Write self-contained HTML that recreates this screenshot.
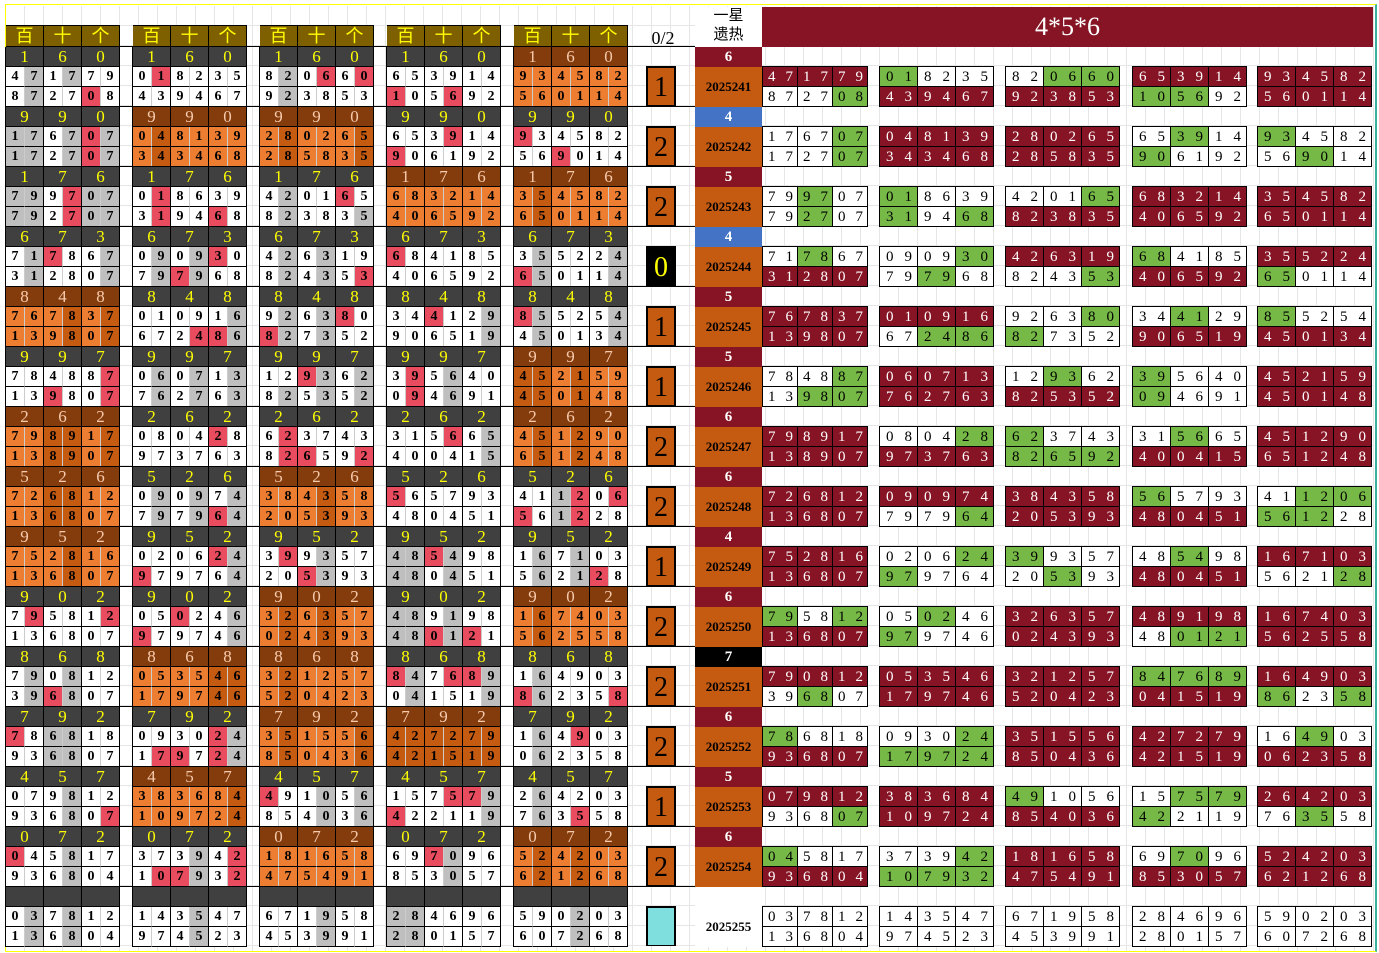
<!DOCTYPE html>
<html><head><meta charset="utf-8"><style>
body{margin:0;width:1379px;height:953px;position:relative;overflow:hidden;background:#fff;font-family:"Liberation Serif",serif}
.grid{position:absolute;left:6px;top:6px;width:1368px;height:945px;background:repeating-linear-gradient(to right,transparent 0 18px,#e6e6e6 18px 19px),repeating-linear-gradient(to bottom,transparent 0 19px,#e6e6e6 19px 20px)}
.frame{position:absolute;left:5px;top:4px;width:1369px;height:946px;border:1px solid #ff0;border-right:2px solid #3cb0a0}
.gr{position:absolute;left:0;width:1379px;height:60px}
.gr:before{content:"";position:absolute;left:6px;width:689px;top:-1px;height:1px;background:#000}
p{margin:0;display:flex;height:20px}
.L{position:absolute;top:0;width:114px;border-left:1px solid #000;margin-left:-1px}
.L i{width:19px;height:20px;box-sizing:border-box;border-bottom:1px solid #000;border-right:1px solid #ccc;font:bold 14px/20px "Liberation Serif",serif;text-align:center;font-style:normal;background:#fff;color:#000}
.L i:nth-child(2n){border-right-color:#000}
.L i.g{background:#bfbfbf}.L i.r{background:#e84c5e}.L i.o{background:#ed7d31}.L i.d{background:#c55a11}
.h s{width:38px;height:20px;box-sizing:border-box;text-decoration:none;font:17px/20px "Liberation Serif",serif;text-align:center;border-right:1px solid #000;border-bottom:1px solid #000}
.k s{background:#404040;color:#ff0}.b s{background:#843c0c;color:#f8cbad}
.c1{left:6px}.c2{left:133px}.c3{left:260px}.c4{left:387px}.c5{left:514px}
.Q{position:absolute;top:20px;border-left:1px solid #000;border-top:1px solid #000;margin-top:-1px;margin-left:-1px}
.Q b{display:block;width:38px;height:20px;box-sizing:border-box;border-right:1px solid #000;border-bottom:1px solid #000;font:normal 15px/20px "Liberation Serif",serif;letter-spacing:11px;padding-left:6px;text-align:left;white-space:nowrap;overflow:hidden;background:#fff;color:#000}
.Q b.R{background:#861424;color:#fff}.Q b.G{background:#76b947}
.d1{left:763px}.d1 b{width:35px;letter-spacing:10px;padding-left:5px}.d2{left:880px}.d3{left:1006px}.d4{left:1133px}.d5{left:1258px}
.n{position:absolute;left:695px;width:67px;top:0;height:20px;color:#fff;font:bold 15px/20px "Liberation Serif",serif;text-align:center;background:#861424}
.n.u{background:#4472c4}.n.z{background:#000}.n.e{background:#fff}
.p{position:absolute;left:695px;width:67px;top:20px;height:40px;background:#c55a11;font:bold 13px/40px "Liberation Serif",serif;text-align:center;color:#000}
.p.e{background:#fff}
.x{position:absolute;left:646px;top:19px;width:26px;height:37px;border:2px solid #000;border-bottom-width:1px;background:#c55a11;font:28px/40px "Liberation Serif",serif;text-align:center;color:#000}
.x.z{background:#000;color:#ff0}.x.c{background:#7fdfdf}
.hd{position:absolute;top:26px;width:114px;height:20px;display:flex;border-top:1px solid #000;margin-top:-1px}
.hd s{width:38px;height:20px;text-decoration:none;background:#7f6000;color:#ff0;font:18px/20px "Liberation Serif","Noto Sans CJK SC",sans-serif;text-align:center;border-right:1px solid #000;box-sizing:border-box}
</style></head><body>
<div class="grid"></div>
<div class="frame"></div>
<div class="hd c1"><s>百</s><s>十</s><s>个</s></div>
<div class="hd c2"><s>百</s><s>十</s><s>个</s></div>
<div class="hd c3"><s>百</s><s>十</s><s>个</s></div>
<div class="hd c4"><s>百</s><s>十</s><s>个</s></div>
<div class="hd c5"><s>百</s><s>十</s><s>个</s></div>
<div style="position:absolute;left:640px;top:28px;width:46px;text-align:center;font:18px/20px 'Liberation Serif',serif">0/2</div>
<div style="position:absolute;left:695px;top:7px;width:67px;height:40px;background:#fff;text-align:center;font:15px/19px 'Liberation Serif','Noto Sans CJK SC',sans-serif">一星<br>遗热</div>
<div style="position:absolute;left:762px;top:7px;width:611px;height:40px;background:#861424;color:#fff;text-align:center;font:26px/40px 'Liberation Serif',serif">4*5*6</div>

<!-- G1 -->
<div class="gr" style="top:47px">
<div class="n">6</div><div class="p">2025241</div><div class="x">1</div>
<div class="L c1"><p class="h k"><s>1</s><s>6</s><s>0</s></p><p><i>4</i><i class=g>7</i><i>1</i><i class=g>7</i><i>7</i><i>9</i></p><p><i>8</i><i class=g>7</i><i>2</i><i>7</i><i class=r>0</i><i>8</i></p></div>
<div class="L c2"><p class="h k"><s>1</s><s>6</s><s>0</s></p><p><i>0</i><i class=r>1</i><i>8</i><i>2</i><i>3</i><i>5</i></p><p><i>4</i><i>3</i><i>9</i><i>4</i><i>6</i><i>7</i></p></div>
<div class="L c3"><p class="h k"><s>1</s><s>6</s><s>0</s></p><p><i>8</i><i class=g>2</i><i>0</i><i class=r>6</i><i>6</i><i class=r>0</i></p><p><i>9</i><i class=g>2</i><i>3</i><i>8</i><i>5</i><i>3</i></p></div>
<div class="L c4"><p class="h k"><s>1</s><s>6</s><s>0</s></p><p><i>6</i><i>5</i><i>3</i><i>9</i><i>1</i><i>4</i></p><p><i class=r>1</i><i>0</i><i>5</i><i class=r>6</i><i>9</i><i>2</i></p></div>
<div class="L c5"><p class="h b"><s>1</s><s>6</s><s>0</s></p><p><i class=o>9</i><i class=o>3</i><i class=o>4</i><i class=o>5</i><i class=o>8</i><i class=o>2</i></p><p><i class=o>5</i><i class=o>6</i><i class=o>0</i><i class=o>1</i><i class=o>1</i><i class=o>4</i></p></div>
<div class="Q d1"><p><b class=R>47</b><b class=R>17</b><b class=R>79</b></p><p><b>87</b><b>27</b><b class=G>08</b></p></div>
<div class="Q d2"><p><b class=G>01</b><b>82</b><b>35</b></p><p><b class=R>43</b><b class=R>94</b><b class=R>67</b></p></div>
<div class="Q d3"><p><b>82</b><b class=G>06</b><b class=G>60</b></p><p><b class=R>92</b><b class=R>38</b><b class=R>53</b></p></div>
<div class="Q d4"><p><b class=R>65</b><b class=R>39</b><b class=R>14</b></p><p><b class=G>10</b><b class=G>56</b><b>92</b></p></div>
<div class="Q d5"><p><b class=R>93</b><b class=R>45</b><b class=R>82</b></p><p><b class=R>56</b><b class=R>01</b><b class=R>14</b></p></div>
</div>

<!-- G2 -->
<div class="gr" style="top:107px">
<div class="n u">4</div><div class="p">2025242</div><div class="x">2</div>
<div class="L c1"><p class="h k"><s>9</s><s>9</s><s>0</s></p><p><i class=g>1</i><i class=g>7</i><i>6</i><i class=g>7</i><i class=r>0</i><i class=g>7</i></p><p><i class=g>1</i><i class=g>7</i><i>2</i><i class=g>7</i><i class=r>0</i><i class=g>7</i></p></div>
<div class="L c2"><p class="h b"><s>9</s><s>9</s><s>0</s></p><p><i class=o>0</i><i class=d>4</i><i class=o>8</i><i class=o>1</i><i class=o>3</i><i class=o>9</i></p><p><i class=o>3</i><i class=d>4</i><i class=o>3</i><i class=o>4</i><i class=o>6</i><i class=o>8</i></p></div>
<div class="L c3"><p class="h b"><s>9</s><s>9</s><s>0</s></p><p><i class=o>2</i><i class=d>8</i><i class=o>0</i><i class=o>2</i><i class=o>6</i><i class=d>5</i></p><p><i class=o>2</i><i class=d>8</i><i class=o>5</i><i class=o>8</i><i class=o>3</i><i class=d>5</i></p></div>
<div class="L c4"><p class="h k"><s>9</s><s>9</s><s>0</s></p><p><i>6</i><i>5</i><i>3</i><i class=r>9</i><i>1</i><i>4</i></p><p><i class=r>9</i><i>0</i><i>6</i><i>1</i><i>9</i><i>2</i></p></div>
<div class="L c5"><p class="h k"><s>9</s><s>9</s><s>0</s></p><p><i class=r>9</i><i>3</i><i>4</i><i>5</i><i>8</i><i>2</i></p><p><i>5</i><i>6</i><i class=r>9</i><i>0</i><i>1</i><i>4</i></p></div>
<div class="Q d1"><p><b>17</b><b>67</b><b class=G>07</b></p><p><b>17</b><b>27</b><b class=G>07</b></p></div>
<div class="Q d2"><p><b class=R>04</b><b class=R>81</b><b class=R>39</b></p><p><b class=R>34</b><b class=R>34</b><b class=R>68</b></p></div>
<div class="Q d3"><p><b class=R>28</b><b class=R>02</b><b class=R>65</b></p><p><b class=R>28</b><b class=R>58</b><b class=R>35</b></p></div>
<div class="Q d4"><p><b>65</b><b class=G>39</b><b>14</b></p><p><b class=G>90</b><b>61</b><b>92</b></p></div>
<div class="Q d5"><p><b class=G>93</b><b>45</b><b>82</b></p><p><b>56</b><b class=G>90</b><b>14</b></p></div>
</div>

<!-- G3 -->
<div class="gr" style="top:167px">
<div class="n">5</div><div class="p">2025243</div><div class="x">2</div>
<div class="L c1"><p class="h k"><s>1</s><s>7</s><s>6</s></p><p><i class=g>7</i><i class=g>9</i><i>9</i><i class=r>7</i><i class=g>0</i><i class=g>7</i></p><p><i class=g>7</i><i class=g>9</i><i>2</i><i class=r>7</i><i class=g>0</i><i class=g>7</i></p></div>
<div class="L c2"><p class="h k"><s>1</s><s>7</s><s>6</s></p><p><i>0</i><i class=r>1</i><i>8</i><i>6</i><i>3</i><i>9</i></p><p><i>3</i><i class=r>1</i><i>9</i><i>4</i><i class=r>6</i><i>8</i></p></div>
<div class="L c3"><p class="h k"><s>1</s><s>7</s><s>6</s></p><p><i>4</i><i class=g>2</i><i>0</i><i>1</i><i class=r>6</i><i>5</i></p><p><i>8</i><i class=g>2</i><i>3</i><i>8</i><i>3</i><i class=g>5</i></p></div>
<div class="L c4"><p class="h b"><s>1</s><s>7</s><s>6</s></p><p><i class=o>6</i><i class=o>8</i><i class=o>3</i><i class=o>2</i><i class=o>1</i><i class=o>4</i></p><p><i class=o>4</i><i class=o>0</i><i class=o>6</i><i class=o>5</i><i class=o>9</i><i class=o>2</i></p></div>
<div class="L c5"><p class="h b"><s>1</s><s>7</s><s>6</s></p><p><i class=o>3</i><i class=d>5</i><i class=o>4</i><i class=o>5</i><i class=o>8</i><i class=o>2</i></p><p><i class=o>6</i><i class=d>5</i><i class=o>0</i><i class=o>1</i><i class=o>1</i><i class=o>4</i></p></div>
<div class="Q d1"><p><b>79</b><b class=G>97</b><b>07</b></p><p><b>79</b><b class=G>27</b><b>07</b></p></div>
<div class="Q d2"><p><b class=G>01</b><b>86</b><b>39</b></p><p><b class=G>31</b><b>94</b><b class=G>68</b></p></div>
<div class="Q d3"><p><b>42</b><b>01</b><b class=G>65</b></p><p><b class=R>82</b><b class=R>38</b><b class=R>35</b></p></div>
<div class="Q d4"><p><b class=R>68</b><b class=R>32</b><b class=R>14</b></p><p><b class=R>40</b><b class=R>65</b><b class=R>92</b></p></div>
<div class="Q d5"><p><b class=R>35</b><b class=R>45</b><b class=R>82</b></p><p><b class=R>65</b><b class=R>01</b><b class=R>14</b></p></div>
</div>

<!-- G4 -->
<div class="gr" style="top:227px">
<div class="n u">4</div><div class="p">2025244</div><div class="x z">0</div>
<div class="L c1"><p class="h k"><s>6</s><s>7</s><s>3</s></p><p><i>7</i><i class=g>1</i><i class=r>7</i><i>8</i><i>6</i><i class=g>7</i></p><p><i>3</i><i class=g>1</i><i>2</i><i>8</i><i>0</i><i class=g>7</i></p></div>
<div class="L c2"><p class="h k"><s>6</s><s>7</s><s>3</s></p><p><i>0</i><i class=g>9</i><i>0</i><i class=g>9</i><i class=r>3</i><i>0</i></p><p><i>7</i><i class=g>9</i><i class=r>7</i><i class=g>9</i><i>6</i><i>8</i></p></div>
<div class="L c3"><p class="h k"><s>6</s><s>7</s><s>3</s></p><p><i>4</i><i class=g>2</i><i>6</i><i class=g>3</i><i>1</i><i>9</i></p><p><i>8</i><i class=g>2</i><i>4</i><i class=g>3</i><i>5</i><i class=r>3</i></p></div>
<div class="L c4"><p class="h k"><s>6</s><s>7</s><s>3</s></p><p><i class=r>6</i><i>8</i><i>4</i><i>1</i><i>8</i><i>5</i></p><p><i>4</i><i>0</i><i>6</i><i>5</i><i>9</i><i>2</i></p></div>
<div class="L c5"><p class="h k"><s>6</s><s>7</s><s>3</s></p><p><i>3</i><i class=g>5</i><i>5</i><i>2</i><i>2</i><i class=g>4</i></p><p><i class=r>6</i><i class=g>5</i><i>0</i><i>1</i><i>1</i><i class=g>4</i></p></div>
<div class="Q d1"><p><b>71</b><b class=G>78</b><b>67</b></p><p><b class=R>31</b><b class=R>28</b><b class=R>07</b></p></div>
<div class="Q d2"><p><b>09</b><b>09</b><b class=G>30</b></p><p><b>79</b><b class=G>79</b><b>68</b></p></div>
<div class="Q d3"><p><b class=R>42</b><b class=R>63</b><b class=R>19</b></p><p><b>82</b><b>43</b><b class=G>53</b></p></div>
<div class="Q d4"><p><b class=G>68</b><b>41</b><b>85</b></p><p><b class=R>40</b><b class=R>65</b><b class=R>92</b></p></div>
<div class="Q d5"><p><b class=R>35</b><b class=R>52</b><b class=R>24</b></p><p><b class=G>65</b><b>01</b><b>14</b></p></div>
</div>

<!-- G5 -->
<div class="gr" style="top:287px">
<div class="n">5</div><div class="p">2025245</div><div class="x">1</div>
<div class="L c1"><p class="h b"><s>8</s><s>4</s><s>8</s></p><p><i class=o>7</i><i class=o>6</i><i class=o>7</i><i class=d>8</i><i class=o>3</i><i class=d>7</i></p><p><i class=o>1</i><i class=o>3</i><i class=o>9</i><i class=d>8</i><i class=o>0</i><i class=d>7</i></p></div>
<div class="L c2"><p class="h k"><s>8</s><s>4</s><s>8</s></p><p><i>0</i><i>1</i><i>0</i><i>9</i><i>1</i><i class=g>6</i></p><p><i>6</i><i>7</i><i>2</i><i class=r>4</i><i class=r>8</i><i class=g>6</i></p></div>
<div class="L c3"><p class="h k"><s>8</s><s>4</s><s>8</s></p><p><i>9</i><i class=g>2</i><i>6</i><i class=g>3</i><i class=r>8</i><i>0</i></p><p><i class=r>8</i><i class=g>2</i><i>7</i><i class=g>3</i><i>5</i><i>2</i></p></div>
<div class="L c4"><p class="h k"><s>8</s><s>4</s><s>8</s></p><p><i>3</i><i>4</i><i class=r>4</i><i>1</i><i>2</i><i class=g>9</i></p><p><i>9</i><i>0</i><i>6</i><i>5</i><i>1</i><i class=g>9</i></p></div>
<div class="L c5"><p class="h k"><s>8</s><s>4</s><s>8</s></p><p><i class=r>8</i><i class=g>5</i><i>5</i><i>2</i><i>5</i><i class=g>4</i></p><p><i>4</i><i class=g>5</i><i>0</i><i>1</i><i>3</i><i class=g>4</i></p></div>
<div class="Q d1"><p><b class=R>76</b><b class=R>78</b><b class=R>37</b></p><p><b class=R>13</b><b class=R>98</b><b class=R>07</b></p></div>
<div class="Q d2"><p><b class=R>01</b><b class=R>09</b><b class=R>16</b></p><p><b>67</b><b class=G>24</b><b class=G>86</b></p></div>
<div class="Q d3"><p><b>92</b><b>63</b><b class=G>80</b></p><p><b class=G>82</b><b>73</b><b>52</b></p></div>
<div class="Q d4"><p><b>34</b><b class=G>41</b><b>29</b></p><p><b class=R>90</b><b class=R>65</b><b class=R>19</b></p></div>
<div class="Q d5"><p><b class=G>85</b><b>52</b><b>54</b></p><p><b class=R>45</b><b class=R>01</b><b class=R>34</b></p></div>
</div>

<!-- G6 -->
<div class="gr" style="top:347px">
<div class="n">5</div><div class="p">2025246</div><div class="x">1</div>
<div class="L c1"><p class="h k"><s>9</s><s>9</s><s>7</s></p><p><i>7</i><i>8</i><i>4</i><i>8</i><i>8</i><i class=r>7</i></p><p><i>1</i><i>3</i><i class=r>9</i><i>8</i><i>0</i><i class=r>7</i></p></div>
<div class="L c2"><p class="h k"><s>9</s><s>9</s><s>7</s></p><p><i>0</i><i class=g>6</i><i>0</i><i class=g>7</i><i>1</i><i class=g>3</i></p><p><i>7</i><i class=g>6</i><i>2</i><i class=g>7</i><i>6</i><i class=g>3</i></p></div>
<div class="L c3"><p class="h k"><s>9</s><s>9</s><s>7</s></p><p><i>1</i><i>2</i><i class=r>9</i><i class=g>3</i><i>6</i><i class=g>2</i></p><p><i>8</i><i class=g>2</i><i>5</i><i class=g>3</i><i>5</i><i class=g>2</i></p></div>
<div class="L c4"><p class="h k"><s>9</s><s>9</s><s>7</s></p><p><i>3</i><i class=r>9</i><i>5</i><i class=g>6</i><i>4</i><i>0</i></p><p><i>0</i><i class=r>9</i><i>4</i><i class=g>6</i><i>9</i><i>1</i></p></div>
<div class="L c5"><p class="h b"><s>9</s><s>9</s><s>7</s></p><p><i class=d>4</i><i class=d>5</i><i class=o>2</i><i class=d>1</i><i class=o>5</i><i class=o>9</i></p><p><i class=d>4</i><i class=d>5</i><i class=o>0</i><i class=d>1</i><i class=o>4</i><i class=o>8</i></p></div>
<div class="Q d1"><p><b>78</b><b>48</b><b class=G>87</b></p><p><b>13</b><b class=G>98</b><b class=G>07</b></p></div>
<div class="Q d2"><p><b class=R>06</b><b class=R>07</b><b class=R>13</b></p><p><b class=R>76</b><b class=R>27</b><b class=R>63</b></p></div>
<div class="Q d3"><p><b>12</b><b class=G>93</b><b>62</b></p><p><b class=R>82</b><b class=R>53</b><b class=R>52</b></p></div>
<div class="Q d4"><p><b class=G>39</b><b>56</b><b>40</b></p><p><b class=G>09</b><b>46</b><b>91</b></p></div>
<div class="Q d5"><p><b class=R>45</b><b class=R>21</b><b class=R>59</b></p><p><b class=R>45</b><b class=R>01</b><b class=R>48</b></p></div>
</div>

<!-- G7 -->
<div class="gr" style="top:407px">
<div class="n">6</div><div class="p">2025247</div><div class="x">2</div>
<div class="L c1"><p class="h b"><s>2</s><s>6</s><s>2</s></p><p><i class=o>7</i><i class=o>9</i><i class=d>8</i><i class=d>9</i><i class=o>1</i><i class=d>7</i></p><p><i class=o>1</i><i class=o>3</i><i class=d>8</i><i class=d>9</i><i class=o>0</i><i class=d>7</i></p></div>
<div class="L c2"><p class="h k"><s>2</s><s>6</s><s>2</s></p><p><i>0</i><i>8</i><i>0</i><i>4</i><i class=r>2</i><i>8</i></p><p><i>9</i><i>7</i><i>3</i><i>7</i><i>6</i><i>3</i></p></div>
<div class="L c3"><p class="h k"><s>2</s><s>6</s><s>2</s></p><p><i>6</i><i class=r>2</i><i>3</i><i>7</i><i>4</i><i>3</i></p><p><i>8</i><i class=r>2</i><i class=r>6</i><i>5</i><i>9</i><i class=r>2</i></p></div>
<div class="L c4"><p class="h k"><s>2</s><s>6</s><s>2</s></p><p><i>3</i><i>1</i><i>5</i><i class=r>6</i><i>6</i><i class=g>5</i></p><p><i>4</i><i>0</i><i>0</i><i>4</i><i>1</i><i class=g>5</i></p></div>
<div class="L c5"><p class="h b"><s>2</s><s>6</s><s>2</s></p><p><i class=o>4</i><i class=d>5</i><i class=o>1</i><i class=d>2</i><i class=o>9</i><i class=o>0</i></p><p><i class=o>6</i><i class=d>5</i><i class=o>1</i><i class=d>2</i><i class=o>4</i><i class=o>8</i></p></div>
<div class="Q d1"><p><b class=R>79</b><b class=R>89</b><b class=R>17</b></p><p><b class=R>13</b><b class=R>89</b><b class=R>07</b></p></div>
<div class="Q d2"><p><b>08</b><b>04</b><b class=G>28</b></p><p><b class=R>97</b><b class=R>37</b><b class=R>63</b></p></div>
<div class="Q d3"><p><b class=G>62</b><b>37</b><b>43</b></p><p><b class=G>82</b><b class=G>65</b><b class=G>92</b></p></div>
<div class="Q d4"><p><b>31</b><b class=G>56</b><b>65</b></p><p><b class=R>40</b><b class=R>04</b><b class=R>15</b></p></div>
<div class="Q d5"><p><b class=R>45</b><b class=R>12</b><b class=R>90</b></p><p><b class=R>65</b><b class=R>12</b><b class=R>48</b></p></div>
</div>

<!-- G8 -->
<div class="gr" style="top:467px">
<div class="n">6</div><div class="p">2025248</div><div class="x">2</div>
<div class="L c1"><p class="h b"><s>5</s><s>2</s><s>6</s></p><p><i class=o>7</i><i class=o>2</i><i class=d>6</i><i class=d>8</i><i class=o>1</i><i class=o>2</i></p><p><i class=o>1</i><i class=o>3</i><i class=d>6</i><i class=d>8</i><i class=o>0</i><i class=o>7</i></p></div>
<div class="L c2"><p class="h k"><s>5</s><s>2</s><s>6</s></p><p><i>0</i><i class=g>9</i><i>0</i><i class=g>9</i><i>7</i><i class=g>4</i></p><p><i>7</i><i class=g>9</i><i>7</i><i class=g>9</i><i class=r>6</i><i class=g>4</i></p></div>
<div class="L c3"><p class="h b"><s>5</s><s>2</s><s>6</s></p><p><i class=o>3</i><i class=o>8</i><i class=o>4</i><i class=d>3</i><i class=o>5</i><i class=o>8</i></p><p><i class=o>2</i><i class=o>0</i><i class=o>5</i><i class=d>3</i><i class=o>9</i><i class=o>3</i></p></div>
<div class="L c4"><p class="h k"><s>5</s><s>2</s><s>6</s></p><p><i class=r>5</i><i>6</i><i>5</i><i>7</i><i>9</i><i>3</i></p><p><i>4</i><i>8</i><i>0</i><i>4</i><i>5</i><i>1</i></p></div>
<div class="L c5"><p class="h k"><s>5</s><s>2</s><s>6</s></p><p><i>4</i><i>1</i><i class=g>1</i><i class=r>2</i><i>0</i><i class=r>6</i></p><p><i class=r>5</i><i>6</i><i class=g>1</i><i class=r>2</i><i>2</i><i>8</i></p></div>
<div class="Q d1"><p><b class=R>72</b><b class=R>68</b><b class=R>12</b></p><p><b class=R>13</b><b class=R>68</b><b class=R>07</b></p></div>
<div class="Q d2"><p><b class=R>09</b><b class=R>09</b><b class=R>74</b></p><p><b>79</b><b>79</b><b class=G>64</b></p></div>
<div class="Q d3"><p><b class=R>38</b><b class=R>43</b><b class=R>58</b></p><p><b class=R>20</b><b class=R>53</b><b class=R>93</b></p></div>
<div class="Q d4"><p><b class=G>56</b><b>57</b><b>93</b></p><p><b class=R>48</b><b class=R>04</b><b class=R>51</b></p></div>
<div class="Q d5"><p><b>41</b><b class=G>12</b><b class=G>06</b></p><p><b class=G>56</b><b class=G>12</b><b>28</b></p></div>
</div>

<!-- G9 -->
<div class="gr" style="top:527px">
<div class="n">4</div><div class="p">2025249</div><div class="x">1</div>
<div class="L c1"><p class="h b"><s>9</s><s>5</s><s>2</s></p><p><i class=o>7</i><i class=o>5</i><i class=o>2</i><i class=d>8</i><i class=o>1</i><i class=o>6</i></p><p><i class=o>1</i><i class=o>3</i><i class=o>6</i><i class=d>8</i><i class=o>0</i><i class=o>7</i></p></div>
<div class="L c2"><p class="h k"><s>9</s><s>5</s><s>2</s></p><p><i>0</i><i>2</i><i>0</i><i>6</i><i class=r>2</i><i class=g>4</i></p><p><i class=r>9</i><i>7</i><i>9</i><i>7</i><i>6</i><i class=g>4</i></p></div>
<div class="L c3"><p class="h k"><s>9</s><s>5</s><s>2</s></p><p><i>3</i><i class=r>9</i><i>9</i><i class=g>3</i><i>5</i><i>7</i></p><p><i>2</i><i>0</i><i class=r>5</i><i class=g>3</i><i>9</i><i>3</i></p></div>
<div class="L c4"><p class="h k"><s>9</s><s>5</s><s>2</s></p><p><i class=g>4</i><i class=g>8</i><i class=r>5</i><i class=g>4</i><i>9</i><i>8</i></p><p><i class=g>4</i><i class=g>8</i><i>0</i><i class=g>4</i><i>5</i><i>1</i></p></div>
<div class="L c5"><p class="h k"><s>9</s><s>5</s><s>2</s></p><p><i>1</i><i class=g>6</i><i>7</i><i class=g>1</i><i>0</i><i>3</i></p><p><i>5</i><i class=g>6</i><i>2</i><i class=g>1</i><i class=r>2</i><i>8</i></p></div>
<div class="Q d1"><p><b class=R>75</b><b class=R>28</b><b class=R>16</b></p><p><b class=R>13</b><b class=R>68</b><b class=R>07</b></p></div>
<div class="Q d2"><p><b>02</b><b>06</b><b class=G>24</b></p><p><b class=G>97</b><b>97</b><b>64</b></p></div>
<div class="Q d3"><p><b class=G>39</b><b>93</b><b>57</b></p><p><b>20</b><b class=G>53</b><b>93</b></p></div>
<div class="Q d4"><p><b>48</b><b class=G>54</b><b>98</b></p><p><b class=R>48</b><b class=R>04</b><b class=R>51</b></p></div>
<div class="Q d5"><p><b class=R>16</b><b class=R>71</b><b class=R>03</b></p><p><b>56</b><b>21</b><b class=G>28</b></p></div>
</div>

<!-- G10 -->
<div class="gr" style="top:587px">
<div class="n">6</div><div class="p">2025250</div><div class="x">2</div>
<div class="L c1"><p class="h k"><s>9</s><s>0</s><s>2</s></p><p><i>7</i><i class=r>9</i><i>5</i><i>8</i><i>1</i><i class=r>2</i></p><p><i>1</i><i>3</i><i>6</i><i>8</i><i>0</i><i>7</i></p></div>
<div class="L c2"><p class="h k"><s>9</s><s>0</s><s>2</s></p><p><i>0</i><i>5</i><i class=r>0</i><i>2</i><i>4</i><i class=g>6</i></p><p><i class=r>9</i><i>7</i><i>9</i><i>7</i><i>4</i><i class=g>6</i></p></div>
<div class="L c3"><p class="h b"><s>9</s><s>0</s><s>2</s></p><p><i class=o>3</i><i class=d>2</i><i class=o>6</i><i class=d>3</i><i class=o>5</i><i class=o>7</i></p><p><i class=o>0</i><i class=d>2</i><i class=o>4</i><i class=d>3</i><i class=o>9</i><i class=o>3</i></p></div>
<div class="L c4"><p class="h k"><s>9</s><s>0</s><s>2</s></p><p><i class=g>4</i><i class=g>8</i><i>9</i><i class=g>1</i><i>9</i><i>8</i></p><p><i class=g>4</i><i class=g>8</i><i class=r>0</i><i class=g>1</i><i class=r>2</i><i>1</i></p></div>
<div class="L c5"><p class="h b"><s>9</s><s>0</s><s>2</s></p><p><i class=o>1</i><i class=d>6</i><i class=o>7</i><i class=o>4</i><i class=o>0</i><i class=o>3</i></p><p><i class=o>5</i><i class=d>6</i><i class=o>2</i><i class=o>5</i><i class=o>5</i><i class=o>8</i></p></div>
<div class="Q d1"><p><b class=G>79</b><b>58</b><b class=G>12</b></p><p><b class=R>13</b><b class=R>68</b><b class=R>07</b></p></div>
<div class="Q d2"><p><b>05</b><b class=G>02</b><b>46</b></p><p><b class=G>97</b><b>97</b><b>46</b></p></div>
<div class="Q d3"><p><b class=R>32</b><b class=R>63</b><b class=R>57</b></p><p><b class=R>02</b><b class=R>43</b><b class=R>93</b></p></div>
<div class="Q d4"><p><b class=R>48</b><b class=R>91</b><b class=R>98</b></p><p><b>48</b><b class=G>01</b><b class=G>21</b></p></div>
<div class="Q d5"><p><b class=R>16</b><b class=R>74</b><b class=R>03</b></p><p><b class=R>56</b><b class=R>25</b><b class=R>58</b></p></div>
</div>

<!-- G11 -->
<div class="gr" style="top:647px">
<div class="n z">7</div><div class="p">2025251</div><div class="x">2</div>
<div class="L c1"><p class="h k"><s>8</s><s>6</s><s>8</s></p><p><i>7</i><i class=g>9</i><i>0</i><i class=g>8</i><i>1</i><i>2</i></p><p><i>3</i><i class=g>9</i><i class=r>6</i><i class=g>8</i><i>0</i><i>7</i></p></div>
<div class="L c2"><p class="h b"><s>8</s><s>6</s><s>8</s></p><p><i class=o>0</i><i class=o>5</i><i class=o>3</i><i class=o>5</i><i class=d>4</i><i class=d>6</i></p><p><i class=o>1</i><i class=o>7</i><i class=o>9</i><i class=o>7</i><i class=d>4</i><i class=d>6</i></p></div>
<div class="L c3"><p class="h b"><s>8</s><s>6</s><s>8</s></p><p><i class=o>3</i><i class=d>2</i><i class=o>1</i><i class=o>2</i><i class=o>5</i><i class=o>7</i></p><p><i class=o>5</i><i class=d>2</i><i class=o>0</i><i class=o>4</i><i class=o>2</i><i class=o>3</i></p></div>
<div class="L c4"><p class="h k"><s>8</s><s>6</s><s>8</s></p><p><i class=r>8</i><i class=g>4</i><i>7</i><i class=r>6</i><i class=r>8</i><i class=g>9</i></p><p><i>0</i><i class=g>4</i><i>1</i><i>5</i><i>1</i><i class=g>9</i></p></div>
<div class="L c5"><p class="h k"><s>8</s><s>6</s><s>8</s></p><p><i>1</i><i class=g>6</i><i>4</i><i>9</i><i>0</i><i>3</i></p><p><i class=r>8</i><i class=g>6</i><i>2</i><i>3</i><i>5</i><i class=r>8</i></p></div>
<div class="Q d1"><p><b class=R>79</b><b class=R>08</b><b class=R>12</b></p><p><b>39</b><b class=G>68</b><b>07</b></p></div>
<div class="Q d2"><p><b class=R>05</b><b class=R>35</b><b class=R>46</b></p><p><b class=R>17</b><b class=R>97</b><b class=R>46</b></p></div>
<div class="Q d3"><p><b class=R>32</b><b class=R>12</b><b class=R>57</b></p><p><b class=R>52</b><b class=R>04</b><b class=R>23</b></p></div>
<div class="Q d4"><p><b class=G>84</b><b class=G>76</b><b class=G>89</b></p><p><b class=R>04</b><b class=R>15</b><b class=R>19</b></p></div>
<div class="Q d5"><p><b class=R>16</b><b class=R>49</b><b class=R>03</b></p><p><b class=G>86</b><b>23</b><b class=G>58</b></p></div>
</div>

<!-- G12 -->
<div class="gr" style="top:707px">
<div class="n">6</div><div class="p">2025252</div><div class="x">2</div>
<div class="L c1"><p class="h k"><s>7</s><s>9</s><s>2</s></p><p><i class=r>7</i><i>8</i><i class=g>6</i><i class=g>8</i><i>1</i><i>8</i></p><p><i>9</i><i>3</i><i class=g>6</i><i class=g>8</i><i>0</i><i>7</i></p></div>
<div class="L c2"><p class="h k"><s>7</s><s>9</s><s>2</s></p><p><i>0</i><i>9</i><i>3</i><i>0</i><i class=r>2</i><i class=g>4</i></p><p><i>1</i><i class=r>7</i><i class=r>9</i><i>7</i><i class=r>2</i><i class=g>4</i></p></div>
<div class="L c3"><p class="h b"><s>7</s><s>9</s><s>2</s></p><p><i class=o>3</i><i class=d>5</i><i class=o>1</i><i class=o>5</i><i class=o>5</i><i class=d>6</i></p><p><i class=o>8</i><i class=d>5</i><i class=o>0</i><i class=o>4</i><i class=o>3</i><i class=d>6</i></p></div>
<div class="L c4"><p class="h b"><s>7</s><s>9</s><s>2</s></p><p><i class=d>4</i><i class=d>2</i><i class=d>7</i><i class=d>2</i><i class=d>7</i><i class=d>9</i></p><p><i class=d>4</i><i class=d>2</i><i class=d>1</i><i class=d>5</i><i class=d>1</i><i class=d>9</i></p></div>
<div class="L c5"><p class="h k"><s>7</s><s>9</s><s>2</s></p><p><i>1</i><i class=g>6</i><i>4</i><i class=r>9</i><i>0</i><i>3</i></p><p><i>0</i><i class=g>6</i><i>2</i><i>3</i><i>5</i><i>8</i></p></div>
<div class="Q d1"><p><b class=G>78</b><b>68</b><b>18</b></p><p><b class=R>93</b><b class=R>68</b><b class=R>07</b></p></div>
<div class="Q d2"><p><b>09</b><b>30</b><b class=G>24</b></p><p><b class=G>17</b><b class=G>97</b><b class=G>24</b></p></div>
<div class="Q d3"><p><b class=R>35</b><b class=R>15</b><b class=R>56</b></p><p><b class=R>85</b><b class=R>04</b><b class=R>36</b></p></div>
<div class="Q d4"><p><b class=R>42</b><b class=R>72</b><b class=R>79</b></p><p><b class=R>42</b><b class=R>15</b><b class=R>19</b></p></div>
<div class="Q d5"><p><b>16</b><b class=G>49</b><b>03</b></p><p><b class=R>06</b><b class=R>23</b><b class=R>58</b></p></div>
</div>

<!-- G13 -->
<div class="gr" style="top:767px">
<div class="n">5</div><div class="p">2025253</div><div class="x">1</div>
<div class="L c1"><p class="h k"><s>4</s><s>5</s><s>7</s></p><p><i>0</i><i>7</i><i>9</i><i class=g>8</i><i>1</i><i>2</i></p><p><i>9</i><i>3</i><i>6</i><i class=g>8</i><i>0</i><i class=r>7</i></p></div>
<div class="L c2"><p class="h b"><s>4</s><s>5</s><s>7</s></p><p><i class=o>3</i><i class=o>8</i><i class=o>3</i><i class=o>6</i><i class=o>8</i><i class=d>4</i></p><p><i class=o>1</i><i class=o>0</i><i class=o>9</i><i class=o>7</i><i class=o>2</i><i class=d>4</i></p></div>
<div class="L c3"><p class="h k"><s>4</s><s>5</s><s>7</s></p><p><i class=r>4</i><i>9</i><i>1</i><i class=g>0</i><i>5</i><i class=g>6</i></p><p><i>8</i><i>5</i><i>4</i><i class=g>0</i><i>3</i><i class=g>6</i></p></div>
<div class="L c4"><p class="h k"><s>4</s><s>5</s><s>7</s></p><p><i>1</i><i>5</i><i>7</i><i class=r>5</i><i class=r>7</i><i class=g>9</i></p><p><i class=r>4</i><i>2</i><i>2</i><i>1</i><i>1</i><i class=g>9</i></p></div>
<div class="L c5"><p class="h k"><s>4</s><s>5</s><s>7</s></p><p><i>2</i><i class=g>6</i><i>4</i><i>2</i><i>0</i><i>3</i></p><p><i>7</i><i class=g>6</i><i>3</i><i class=r>5</i><i>5</i><i>8</i></p></div>
<div class="Q d1"><p><b class=R>07</b><b class=R>98</b><b class=R>12</b></p><p><b>93</b><b>68</b><b class=G>07</b></p></div>
<div class="Q d2"><p><b class=R>38</b><b class=R>36</b><b class=R>84</b></p><p><b class=R>10</b><b class=R>97</b><b class=R>24</b></p></div>
<div class="Q d3"><p><b class=G>49</b><b>10</b><b>56</b></p><p><b class=R>85</b><b class=R>40</b><b class=R>36</b></p></div>
<div class="Q d4"><p><b>15</b><b class=G>75</b><b class=G>79</b></p><p><b class=G>42</b><b>21</b><b>19</b></p></div>
<div class="Q d5"><p><b class=R>26</b><b class=R>42</b><b class=R>03</b></p><p><b>76</b><b class=G>35</b><b>58</b></p></div>
</div>

<!-- G14 -->
<div class="gr" style="top:827px">
<div class="n">6</div><div class="p">2025254</div><div class="x">2</div>
<div class="L c1"><p class="h k"><s>0</s><s>7</s><s>2</s></p><p><i class=r>0</i><i>4</i><i>5</i><i class=g>8</i><i>1</i><i>7</i></p><p><i>9</i><i>3</i><i>6</i><i class=g>8</i><i>0</i><i>4</i></p></div>
<div class="L c2"><p class="h k"><s>0</s><s>7</s><s>2</s></p><p><i>3</i><i>7</i><i>3</i><i class=g>9</i><i>4</i><i class=r>2</i></p><p><i>1</i><i class=r>0</i><i class=r>7</i><i class=g>9</i><i>3</i><i class=r>2</i></p></div>
<div class="L c3"><p class="h b"><s>0</s><s>7</s><s>2</s></p><p><i class=o>1</i><i class=o>8</i><i class=o>1</i><i class=o>6</i><i class=o>5</i><i class=o>8</i></p><p><i class=o>4</i><i class=o>7</i><i class=o>5</i><i class=o>4</i><i class=o>9</i><i class=o>1</i></p></div>
<div class="L c4"><p class="h k"><s>0</s><s>7</s><s>2</s></p><p><i>6</i><i>9</i><i class=r>7</i><i class=g>0</i><i>9</i><i>6</i></p><p><i>8</i><i>5</i><i>3</i><i class=g>0</i><i>5</i><i>7</i></p></div>
<div class="L c5"><p class="h b"><s>0</s><s>7</s><s>2</s></p><p><i class=o>5</i><i class=d>2</i><i class=o>4</i><i class=d>2</i><i class=o>0</i><i class=o>3</i></p><p><i class=o>6</i><i class=d>2</i><i class=o>1</i><i class=d>2</i><i class=o>6</i><i class=o>8</i></p></div>
<div class="Q d1"><p><b class=G>04</b><b>58</b><b>17</b></p><p><b class=R>93</b><b class=R>68</b><b class=R>04</b></p></div>
<div class="Q d2"><p><b>37</b><b>39</b><b class=G>42</b></p><p><b class=G>10</b><b class=G>79</b><b class=G>32</b></p></div>
<div class="Q d3"><p><b class=R>18</b><b class=R>16</b><b class=R>58</b></p><p><b class=R>47</b><b class=R>54</b><b class=R>91</b></p></div>
<div class="Q d4"><p><b>69</b><b class=G>70</b><b>96</b></p><p><b class=R>85</b><b class=R>30</b><b class=R>57</b></p></div>
<div class="Q d5"><p><b class=R>52</b><b class=R>42</b><b class=R>03</b></p><p><b class=R>62</b><b class=R>12</b><b class=R>68</b></p></div>
</div>

<!-- G15 -->
<div class="gr" style="top:887px">
<div class="n e"></div><div class="p e">2025255</div><div class="x c"></div>
<div class="L c1"><p class="h k"><s></s><s></s><s></s></p><p><i>0</i><i class=g>3</i><i>7</i><i class=g>8</i><i>1</i><i>2</i></p><p><i>1</i><i class=g>3</i><i>6</i><i class=g>8</i><i>0</i><i>4</i></p></div>
<div class="L c2"><p class="h k"><s></s><s></s><s></s></p><p><i>1</i><i>4</i><i>3</i><i class=g>5</i><i>4</i><i>7</i></p><p><i>9</i><i>7</i><i>4</i><i class=g>5</i><i>2</i><i>3</i></p></div>
<div class="L c3"><p class="h k"><s></s><s></s><s></s></p><p><i>6</i><i>7</i><i>1</i><i class=g>9</i><i>5</i><i>8</i></p><p><i>4</i><i>5</i><i>3</i><i class=g>9</i><i>9</i><i>1</i></p></div>
<div class="L c4"><p class="h k"><s></s><s></s><s></s></p><p><i class=g>2</i><i class=g>8</i><i>4</i><i>6</i><i>9</i><i>6</i></p><p><i class=g>2</i><i class=g>8</i><i>0</i><i>1</i><i>5</i><i>7</i></p></div>
<div class="L c5"><p class="h k"><s></s><s></s><s></s></p><p><i>5</i><i>9</i><i>0</i><i class=g>2</i><i>0</i><i>3</i></p><p><i>6</i><i>0</i><i>7</i><i class=g>2</i><i>6</i><i>8</i></p></div>
<div class="Q d1"><p><b>03</b><b>78</b><b>12</b></p><p><b>13</b><b>68</b><b>04</b></p></div>
<div class="Q d2"><p><b>14</b><b>35</b><b>47</b></p><p><b>97</b><b>45</b><b>23</b></p></div>
<div class="Q d3"><p><b>67</b><b>19</b><b>58</b></p><p><b>45</b><b>39</b><b>91</b></p></div>
<div class="Q d4"><p><b>28</b><b>46</b><b>96</b></p><p><b>28</b><b>01</b><b>57</b></p></div>
<div class="Q d5"><p><b>59</b><b>02</b><b>03</b></p><p><b>60</b><b>72</b><b>68</b></p></div>
</div>
</body></html>
